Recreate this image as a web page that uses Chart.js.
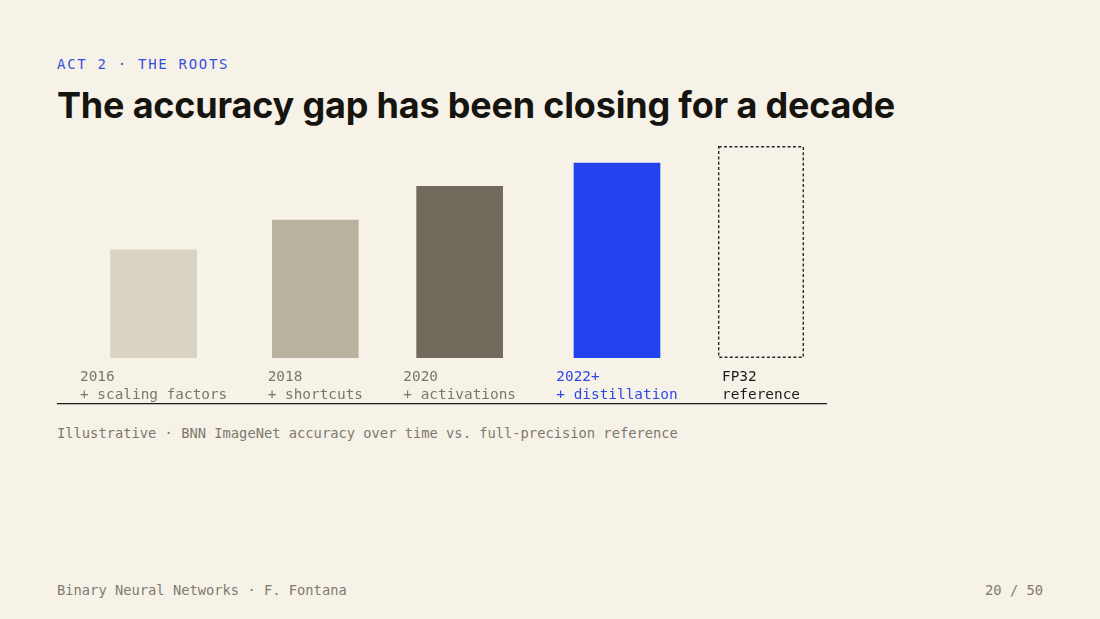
<!DOCTYPE html>
<html>
<head>
<meta charset="utf-8">
<script src="https://cdn.jsdelivr.net/npm/chart.js@4"></script>
<style>
  html, body { margin: 0; padding: 0; }
  body { width: 1100px; height: 619px; background: #f7f2e8; position: relative; overflow: hidden; }
  .mono { font-family: "DejaVu Sans Mono", "Liberation Mono", monospace; }
  #kicker { position: absolute; left: 57px; top: 56.5px; font-size: 14px; line-height: 14px; letter-spacing: 1.7px; color: #3550da; white-space: nowrap; }
  #title { position: absolute; left: 57px; top: 87px; font-family: Inter, "Noto Sans", sans-serif; font-weight: 700; font-size: 36px; line-height: 36px; color: #16140f; white-space: nowrap; }
  #chartBox { position: absolute; left: 57px; top: 140px; width: 770px; height: 268px; }
  #caption { position: absolute; left: 57px; top: 426.7px; font-size: 13.75px; line-height: 13.75px; color: #7d786d; white-space: nowrap; }
  #footL { position: absolute; left: 57px; top: 584px; font-size: 13.75px; line-height: 13.75px; color: #7f7a6f; white-space: nowrap; }
  #footR { position: absolute; right: 57px; top: 584px; font-size: 13.75px; line-height: 13.75px; color: #7f7a6f; white-space: nowrap; }
</style>
</head>
<body>
<div id="kicker" class="mono">ACT 2 · THE ROOTS</div>
<div id="title"><span id="titleText">The accuracy gap has been closing for a decade</span></div>
<div id="chartBox"><canvas id="c"></canvas></div>
<div id="caption" class="mono">Illustrative · BNN ImageNet accuracy over time vs. full-precision reference</div>
<div id="footL" class="mono">Binary Neural Networks · F. Fontana</div>
<div id="footR" class="mono">20 / 50</div>
<script>
// ---- data ----
const years = ['2016', '2018', '2020', '2022+', 'FP32'];
const techniques = ['+ scaling factors', '+ shortcuts', '+ activations', '+ distillation', 'reference'];
const accuracy = [51, 65, 81, 92, 100]; // illustrative, relative to FP32 reference (%)
const referenceLabel = 'FP32';

// ---- styles ----
const barColors = ['#d9d3c4', '#b8b29e', '#6f6a5c', '#2343ee', 'rgba(0,0,0,0)'];
const labelColors = ['#7a766b', '#7a766b', '#7a766b', '#2d49e6', '#1c1b18'];
const labelFontSize = 14.4;
const labelFamily = '"DejaVu Sans Mono", "Liberation Mono", monospace';
const barWidth = 86;
const rowWidth = 770;
const rowPad = 23;
const labelBandHeight = 46;

// fit title width
(function () {
  const t = document.getElementById('titleText');
  const w0 = t.getBoundingClientRect().width;
  const n = t.textContent.length;
  t.style.letterSpacing = ((838 - w0) / n) + 'px';
})();

// ---- flex-like column layout derived from label widths ----
const mctx = document.createElement('canvas').getContext('2d');
mctx.font = labelFontSize + 'px ' + labelFamily;
const labelW = years.map((y, i) => Math.max(mctx.measureText(y).width, mctx.measureText(techniques[i]).width));
const colW = labelW.map(w => Math.max(barWidth, w));
const totalCols = colW.reduce((a, b) => a + b, 0);
const gap = (rowWidth - 2 * rowPad - totalCols) / (years.length - 1);
const colStart = [];
let acc = rowPad;
colW.forEach(w => { colStart.push(acc); acc += w + gap; });
const centers = colStart.map((s, i) => s + colW[i] / 2);
const labelStarts = colStart.map((s, i) => s + (colW[i] - labelW[i]) / 2);

const refIndex = years.indexOf(referenceLabel);

const dashedRef = {
  id: 'dashedRef',
  afterDatasetsDraw(chart) {
    const meta = chart.getDatasetMeta(0);
    const el = meta.data[refIndex];
    if (!el) return;
    const p = el.getProps(['x', 'y', 'base', 'width'], true);
    const ctx = chart.ctx;
    const lw = 1.4;
    ctx.save();
    ctx.setLineDash([3, 2.3]);
    ctx.lineWidth = lw;
    ctx.strokeStyle = '#2a2925';
    ctx.strokeRect(p.x - p.width / 2 + lw / 2, p.y + lw / 2, p.width - lw, p.base - p.y - lw);
    ctx.restore();
  }
};

new Chart(document.getElementById('c'), {
  type: 'bar',
  data: {
    datasets: [{
      data: accuracy.map((v, i) => ({ x: centers[i], y: v })),
      backgroundColor: barColors,
      borderWidth: 0,
      barThickness: barWidth
    }]
  },
  options: {
    responsive: true,
    maintainAspectRatio: false,
    animation: false,
    layout: { padding: { top: 6, bottom: 4, left: 0, right: 0 } },
    plugins: { legend: { display: false }, tooltip: { enabled: false } },
    scales: {
      x: {
        type: 'linear',
        position: 'bottom',
        weight: 0,
        min: 0,
        max: rowWidth,
        offset: false,
        grid: { display: false, drawTicks: false, offset: false },
        border: { display: false },
        afterBuildTicks: (scale) => { scale.ticks = labelStarts.map(v => ({ value: v })); },
        afterFit: (scale) => { scale.height = labelBandHeight; },
        ticks: {
          autoSkip: false,
          maxRotation: 0,
          minRotation: 0,
          align: 'start',
          padding: 10,
          font: { family: labelFamily, size: labelFontSize, lineHeight: 18 / labelFontSize },
          color: (c) => labelColors[c.index],
          callback: (v, i) => [years[i], techniques[i]]
        }
      },
      x2: {
        type: 'linear',
        position: 'bottom',
        weight: 1,
        min: 0,
        max: 1,
        offset: false,
        grid: { display: false, drawTicks: false },
        border: { display: true, color: '#1b1a16', width: 1.2 },
        ticks: { display: false }
      },
      y: {
        display: false,
        min: 0,
        max: 100
      }
    }
  },
  plugins: [dashedRef]
});
</script>
</body>
</html>
